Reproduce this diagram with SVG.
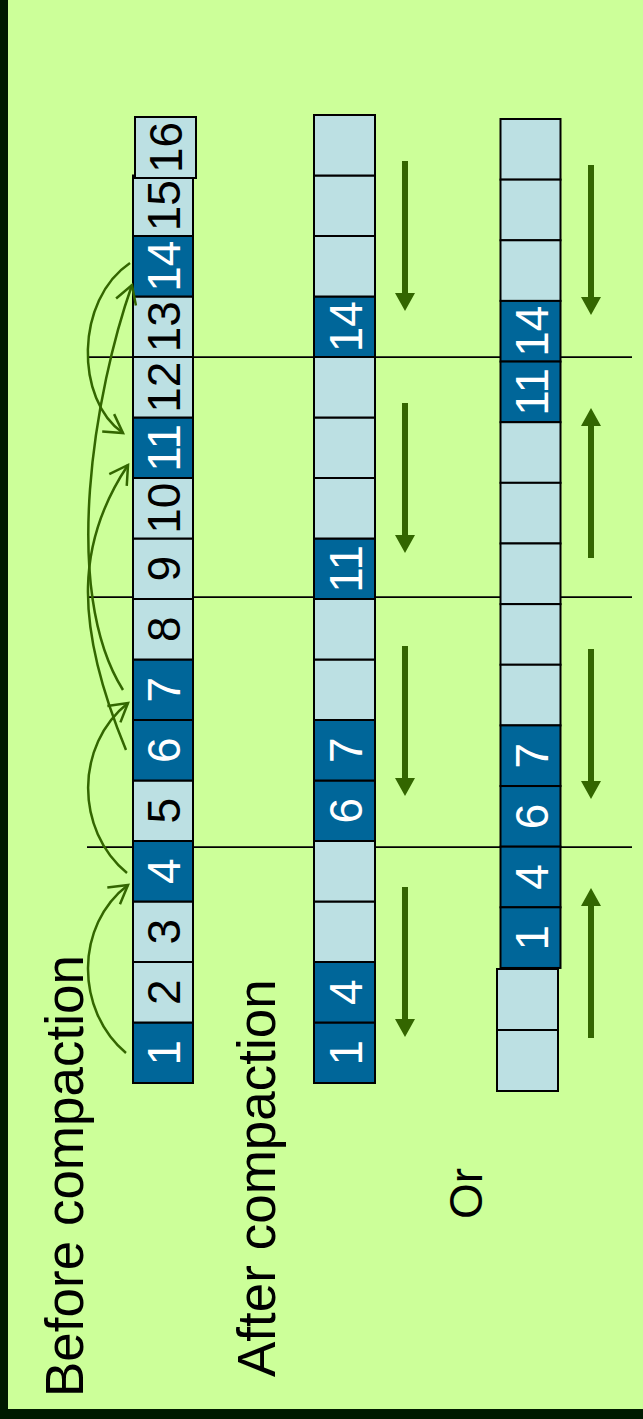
<svg xmlns="http://www.w3.org/2000/svg" width="643" height="1419" viewBox="0 0 643 1419">
<style>
.l{fill:#bce0e3;stroke:#000;stroke-width:2}
.d{fill:#006699;stroke:#000;stroke-width:2}
.n{font-family:"Liberation Sans",Arial,sans-serif;font-size:46px;text-anchor:middle}
.w{fill:#fff}
.b{fill:#000}
.lab{font-family:"Liberation Sans",Arial,sans-serif;font-size:53px;fill:#000}
.sep{stroke:#000;stroke-width:1.75}
.cv{fill:none;stroke:#336600;stroke-width:2.5;marker-end:url(#oa)}
.ga{fill:#336600}
</style>
<defs>
<marker id="oa" markerUnits="userSpaceOnUse" markerWidth="24" markerHeight="26" viewBox="-21 -13 24 26" refX="0" refY="0" orient="auto" overflow="visible">
<path d="M-18,-10.5 L0,0 L-18,10.5" fill="none" stroke="#336600" stroke-width="2.5" stroke-linejoin="miter"/>
</marker>
<path id="down" d="M-3,0 H3 V132 H10 L0,150 L-10,132 H-3 Z"/>
</defs>
<rect x="0" y="0" width="643" height="1419" fill="#001a00"/>
<rect x="8" y="0" width="635" height="1409" fill="#ccff99"/>

<g id="separators">
<line class="sep" x1="87" y1="357" x2="632" y2="357"/>
<line class="sep" x1="87" y1="597" x2="632" y2="597"/>
<line class="sep" x1="87" y1="847" x2="632" y2="847"/>
</g>

<g id="label-before"><text class="lab" transform="translate(83,1397) rotate(-90)">Before compaction</text></g>
<g id="label-after"><text class="lab" transform="translate(275,1377) rotate(-90)">After compaction</text></g>
<g id="label-or"><text class="lab" style="font-size:46px" transform="translate(482,1219) rotate(-90)">Or</text></g>

<g id="before">
<g id="b1"><rect class="d" x="133" y="1022.5" width="60" height="60.5"/><text class="n w" transform="translate(180,1052.75) rotate(-90)">1</text></g>
<g id="b2"><rect class="l" x="133" y="962" width="60" height="60.5"/><text class="n b" transform="translate(180,992.25) rotate(-90)">2</text></g>
<g id="b3"><rect class="l" x="133" y="901.5" width="60" height="60.5"/><text class="n b" transform="translate(180,931.75) rotate(-90)">3</text></g>
<g id="b4"><rect class="d" x="133" y="841" width="60" height="60.5"/><text class="n w" transform="translate(180,871.25) rotate(-90)">4</text></g>
<g id="b5"><rect class="l" x="133" y="780.5" width="60" height="60.5"/><text class="n b" transform="translate(180,810.75) rotate(-90)">5</text></g>
<g id="b6"><rect class="d" x="133" y="720" width="60" height="60.5"/><text class="n w" transform="translate(180,750.25) rotate(-90)">6</text></g>
<g id="b7"><rect class="d" x="133" y="659.5" width="60" height="60.5"/><text class="n w" transform="translate(180,689.75) rotate(-90)">7</text></g>
<g id="b8"><rect class="l" x="133" y="599" width="60" height="60.5"/><text class="n b" transform="translate(180,629.25) rotate(-90)">8</text></g>
<g id="b9"><rect class="l" x="133" y="538.5" width="60" height="60.5"/><text class="n b" transform="translate(180,568.75) rotate(-90)">9</text></g>
<g id="b10"><rect class="l" x="133" y="478" width="60" height="60.5"/><text class="n b" transform="translate(180,508.25) rotate(-90)">10</text></g>
<g id="b11"><rect class="d" x="133" y="417.5" width="60" height="60.5"/><text class="n w" transform="translate(180,447.75) rotate(-90)">11</text></g>
<g id="b12"><rect class="l" x="133" y="357" width="60" height="60.5"/><text class="n b" transform="translate(180,387.25) rotate(-90)">12</text></g>
<g id="b13"><rect class="l" x="133" y="296.5" width="60" height="60.5"/><text class="n b" transform="translate(180,326.75) rotate(-90)">13</text></g>
<g id="b14"><rect class="d" x="133" y="236" width="60" height="60.5"/><text class="n w" transform="translate(180,266.25) rotate(-90)">14</text></g>
<g id="b15"><rect class="l" x="133" y="175.5" width="60" height="60.5"/><text class="n b" transform="translate(180,205.75) rotate(-90)">15</text></g>
<g id="b16"><rect class="l" x="135" y="117" width="61" height="61"/><text class="n b" transform="translate(182,147.5) rotate(-90)">16</text></g>
</g>

<g id="after">
<g id="a1"><rect class="d" x="314" y="1022.5" width="61" height="60.5"/><text class="n w" transform="translate(362,1052.75) rotate(-90)">1</text></g>
<g id="a2"><rect class="d" x="314" y="962" width="61" height="60.5"/><text class="n w" transform="translate(362,992.25) rotate(-90)">4</text></g>
<g id="a3"><rect class="l" x="314" y="901.5" width="61" height="60.5"/></g>
<g id="a4"><rect class="l" x="314" y="841" width="61" height="60.5"/></g>
<g id="a5"><rect class="d" x="314" y="780.5" width="61" height="60.5"/><text class="n w" transform="translate(362,810.75) rotate(-90)">6</text></g>
<g id="a6"><rect class="d" x="314" y="720" width="61" height="60.5"/><text class="n w" transform="translate(362,750.25) rotate(-90)">7</text></g>
<g id="a7"><rect class="l" x="314" y="659.5" width="61" height="60.5"/></g>
<g id="a8"><rect class="l" x="314" y="599" width="61" height="60.5"/></g>
<g id="a9"><rect class="d" x="314" y="538.5" width="61" height="60.5"/><text class="n w" transform="translate(362,568.75) rotate(-90)">11</text></g>
<g id="a10"><rect class="l" x="314" y="478" width="61" height="60.5"/></g>
<g id="a11"><rect class="l" x="314" y="417.5" width="61" height="60.5"/></g>
<g id="a12"><rect class="l" x="314" y="357" width="61" height="60.5"/></g>
<g id="a13"><rect class="d" x="314" y="296.5" width="61" height="60.5"/><text class="n w" transform="translate(362,326.75) rotate(-90)">14</text></g>
<g id="a14"><rect class="l" x="314" y="236" width="61" height="60.5"/></g>
<g id="a15"><rect class="l" x="314" y="175.5" width="61" height="60.5"/></g>
<g id="a16"><rect class="l" x="314" y="115" width="61" height="60.5"/></g>
</g>

<g id="alt">
<g id="c0"><rect class="l" x="500.5" y="119" width="60" height="60.64"/></g>
<g id="c1"><rect class="l" x="500.5" y="179.64" width="60" height="60.64"/></g>
<g id="c2"><rect class="l" x="500.5" y="240.28" width="60" height="60.64"/></g>
<g id="c3"><rect class="d" x="500.5" y="300.92" width="60" height="60.64"/><text class="n w" transform="translate(548,331.24) rotate(-90)">14</text></g>
<g id="c4"><rect class="d" x="500.5" y="361.56" width="60" height="60.64"/><text class="n w" transform="translate(548,391.88) rotate(-90)">11</text></g>
<g id="c5"><rect class="l" x="500.5" y="422.2" width="60" height="60.64"/></g>
<g id="c6"><rect class="l" x="500.5" y="482.84" width="60" height="60.64"/></g>
<g id="c7"><rect class="l" x="500.5" y="543.48" width="60" height="60.64"/></g>
<g id="c8"><rect class="l" x="500.5" y="604.12" width="60" height="60.64"/></g>
<g id="c9"><rect class="l" x="500.5" y="664.76" width="60" height="60.64"/></g>
<g id="c10"><rect class="d" x="500.5" y="725.4" width="60" height="60.64"/><text class="n w" transform="translate(548,755.72) rotate(-90)">7</text></g>
<g id="c11"><rect class="d" x="500.5" y="786.04" width="60" height="60.64"/><text class="n w" transform="translate(548,816.36) rotate(-90)">6</text></g>
<g id="c12"><rect class="d" x="500.5" y="846.68" width="60" height="60.64"/><text class="n w" transform="translate(548,877) rotate(-90)">4</text></g>
<g id="c13"><rect class="d" x="500.5" y="907.32" width="60" height="60.64"/><text class="n w" transform="translate(548,937.64) rotate(-90)">1</text></g>
<g id="c14"><rect class="l" x="497" y="969" width="61" height="61"/></g>
<g id="c15"><rect class="l" x="497" y="1030" width="61" height="61"/></g>
</g>

<g id="connectors">
<path class="cv" d="M126,1053 C75,1010 75,925 128,885"/>
<path class="cv" d="M127,873 C75,830 75,745 128,703"/>
<path class="cv" d="M126,750 C72,620 78,540 128,465"/>
<path class="cv" d="M123,690 C60,590 95,390 132,285"/>
<path class="cv" d="M130,263 C75,300 75,400 123,433"/>
<g class="ga">
<use href="#down" transform="translate(405,161)"/>
<use href="#down" transform="translate(405,403)"/>
<use href="#down" transform="translate(405,646)"/>
<use href="#down" transform="translate(405,887)"/>
<use href="#down" transform="translate(591,165)"/>
<use href="#down" transform="translate(591,558) scale(1,-1)"/>
<use href="#down" transform="translate(591,649)"/>
<use href="#down" transform="translate(591,1038) scale(1,-1)"/>
</g>
</g>
</svg>
